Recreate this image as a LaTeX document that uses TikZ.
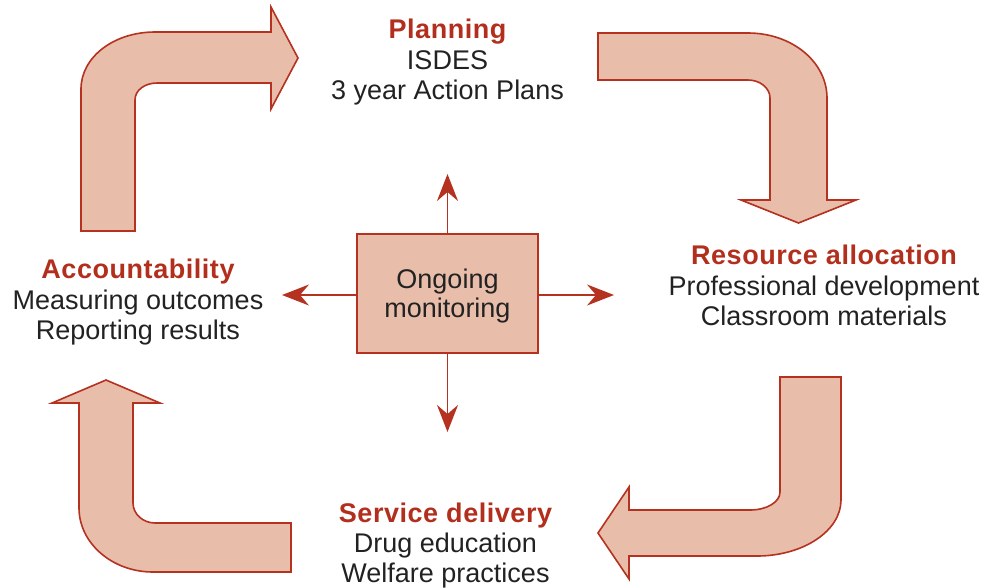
\documentclass[tikz,border=0pt]{standalone}
\usepackage{fontspec}
\setmainfont{Liberation Sans}
\usetikzlibrary{arrows.meta}
\definecolor{cyclefill}{RGB}{232,189,170}
\definecolor{cycleline}{RGB}{181,49,32}
\definecolor{headred}{RGB}{178,47,30}
\definecolor{bodytext}{RGB}{34,34,34}
\begin{document}
\begin{tikzpicture}[x=1pt,y=-1pt,
  bigarrow/.style={fill=cyclefill,draw=cycleline,line width=1.6pt,line join=miter},
  monbox/.style={rectangle,fill=cyclefill,draw=cycleline,line width=1.6pt,
    minimum width=181pt,minimum height=119pt,inner sep=0pt},
  monarrow/.style={draw=cycleline,line width=1.6pt,
    -{Stealth[length=27pt,width=21pt,inset=9pt]}},
  head/.style={anchor=base,inner sep=0pt,text=headred,
    font=\fontsize{27}{30}\selectfont\bfseries\addfontfeature{LetterSpace=2}},
  body/.style={anchor=base,inner sep=0pt,text=bodytext,
    font=\fontsize{27}{30}\selectfont}]
\useasboundingbox (0,0) rectangle (985,587);

% Planning -> Resource allocation (top right bend)
\draw[bigarrow] (598,33) -- (748,33)
  .. controls (792,33) and (827,62) .. (827,98) -- (827,200)
  -- (856,200) -- (798.5,223) -- (741,200) -- (770,200) -- (770,98)
  .. controls (770,88) and (760,80) .. (748,80) -- (598,80) -- cycle;

% Resource allocation -> Service delivery (bottom right bend)
\draw[bigarrow] (780,377) -- (841,377) -- (841,500)
  .. controls (841,531) and (803,556) .. (757,556) -- (629,556)
  -- (629,579) -- (598,533) -- (629,487) -- (629,510) -- (750,510)
  .. controls (767,510) and (780,502) .. (780,492) -- cycle;

% Service delivery -> Accountability (bottom left bend)
\draw[bigarrow] (291,523) -- (155,523)
  .. controls (143,523) and (133,514) .. (133,503) -- (133,403)
  -- (160,403) -- (106,380) -- (52,403) -- (79,403) -- (79,508)
  .. controls (79,543) and (112,572) .. (153,572) -- (291,572) -- cycle;

% Accountability -> Planning (top left bend)
\draw[bigarrow] (81,231) -- (81,89)
  .. controls (81,57) and (114,32) .. (155,32) -- (271,32)
  -- (271,7) -- (298,58) -- (271,109) -- (271,83) -- (157,83)
  .. controls (145,83) and (135,90) .. (135,100) -- (135,231) -- cycle;

% central monitoring box and its four arrows
\node[monbox] (mon) at (447.5,293.5) {};
\node[body] (monA) at (447.5,288) {Ongoing};
\node[body] (monB) at (447.5,317) {monitoring};
\coordinate (tipN) at (447.5,174);
\coordinate (tipS) at (447.5,432);
\coordinate (tipW) at (282,295);
\coordinate (tipE) at (614,295);
\draw[monarrow] (mon.north) -- (tipN);
\draw[monarrow] (mon.south) -- (tipS);
\draw[monarrow] (mon.west |- tipW) -- (tipW);
\draw[monarrow] (mon.east |- tipE) -- (tipE);

% stage labels
\node[head] (planH) at (447.5,38) {Planning};
\node[body] (planA) at (447.5,69) {ISDES};
\node[body] (planB) at (447.5,99) {3 year Action Plans};

\node[head] (resH) at (824,264) {Resource allocation};
\node[body] (resA) at (824,295) {Professional development};
\node[body] (resB) at (824,325) {Classroom materials};

\node[head] (accH) at (138,278) {Accountability};
\node[body] (accA) at (138,309) {Measuring outcomes};
\node[body] (accB) at (138,339) {Reporting results};

\node[head] (svcH) at (445.5,522) {Service delivery};
\node[body] (svcA) at (445.5,552) {Drug education};
\node[body] (svcB) at (445.5,582) {Welfare practices};
\end{tikzpicture}
\end{document}
